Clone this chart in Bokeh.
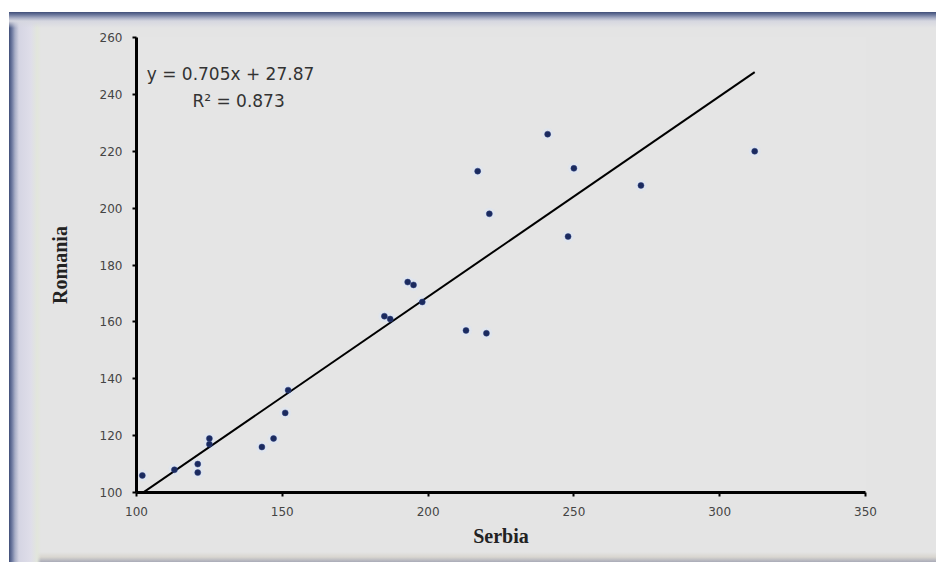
from bokeh.plotting import figure
from bokeh.models import Range1d, Label, ColumnDataSource, FixedTicker
from bokeh.embed import file_html
from bokeh.resources import INLINE

serbia = [102, 113, 121, 121, 125, 125, 143, 147, 151, 152, 185, 187, 193, 195,
          198, 213, 220, 217, 221, 241, 248, 250, 273, 312]
romania = [106, 108, 110, 107, 119, 117, 116, 119, 128, 136, 162, 161, 174, 173,
           167, 157, 156, 213, 198, 226, 190, 214, 208, 220]
slope = 0.705
intercept = 27.87
x_ticks = [100, 150, 200, 250, 300, 350]
y_ticks = [100, 120, 140, 160, 180, 200, 220, 240, 260]
eq_text = "y = 0.705x + 27.87"
r2_text = "R² = 0.873"

p = figure(width=927, height=550, output_backend="svg", toolbar_location=None,
           x_range=Range1d(100, 350), y_range=Range1d(100, 260),
           min_border_left=127, min_border_right=71, min_border_top=25, min_border_bottom=70)
p.margin = (12, 0, 3, 9)
p.styles = {
    "background": ("linear-gradient(to bottom, #3f4e78 0px, #6f7b9f 3px, #a9afc5 6px, "
                   "#d6d7e0 9px, rgba(228,228,228,0) 16px), "
                   "linear-gradient(to right, #3f4e78 0px, #6e7aa0 3px, #a8aec6 6px, "
                   "#d5d5e3 10px, #dfdee9 22px, #e2e6dc 28px, rgba(228,228,228,0) 32px), "
                   "linear-gradient(to top, #a9abb8 0px, #d9d6d0 5px, rgba(228,228,228,0) 10px), "
                   "#e4e4e4"),
}
p.background_fill_color = "#e5e5e5"
p.border_fill_alpha = 0
p.outline_line_color = None
p.grid.visible = False

for ax in (p.xaxis[0], p.yaxis[0]):
    ax.axis_line_width = 3
    ax.axis_line_color = "black"
    ax.major_tick_line_color = "black"
    ax.major_tick_line_width = 2
    ax.major_tick_out = 4
    ax.major_tick_in = 0
    ax.minor_tick_line_color = None
    ax.major_label_text_font = "DejaVu Sans"
    ax.major_label_text_font_size = "12px"
    ax.major_label_text_color = "#444444"
    ax.axis_label_text_font = "Liberation Serif"
    ax.axis_label_text_font_style = "bold"
    ax.axis_label_text_font_size = "20px"
    ax.axis_label_text_color = "#222222"

p.xaxis.ticker = FixedTicker(ticks=x_ticks)
p.yaxis.ticker = FixedTicker(ticks=y_ticks)
p.xaxis.axis_label = "Serbia"
p.yaxis.axis_label = "Romania"
p.xaxis.major_label_standoff = 10
p.yaxis.major_label_standoff = 10
p.xaxis.axis_label_standoff = 6
p.yaxis.axis_label_standoff = 26

src = ColumnDataSource(dict(x=serbia, y=romania))
p.scatter("x", "y", source=src, size=12, marker="circle", fill_color="#dce4f2",
          fill_alpha=0.6, line_color=None)

xmin, xmax = min(serbia), max(serbia)
p.line([xmin, xmax], [slope * xmin + intercept, slope * xmax + intercept],
       line_color="black", line_width=2)

p.scatter("x", "y", source=src, size=6, marker="circle", fill_color="#1b2a5e",
          line_color="#2a3f80", line_width=0.5)

p.add_layout(Label(x=103.5, y=247, text=eq_text, text_font="DejaVu Sans",
                   text_font_size="17px", text_color="#333333", text_baseline="middle"))
p.add_layout(Label(x=135, y=237.5, text=r2_text, text_font="DejaVu Sans",
                   text_font_size="17px", text_color="#333333", text_baseline="middle",
                   text_align="center"))

open("out.html", "w").write(file_html(p, INLINE))
